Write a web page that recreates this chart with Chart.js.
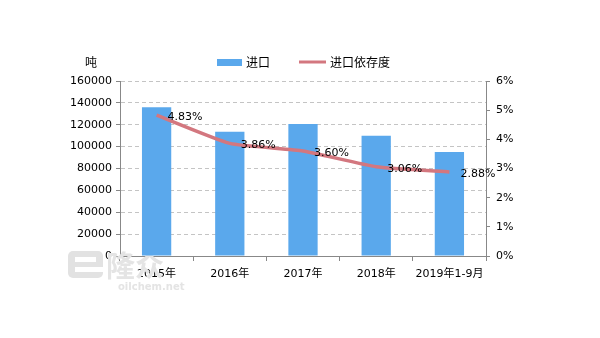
<!DOCTYPE html>
<html>
<head>
<meta charset="utf-8">
<script src="https://cdn.jsdelivr.net/npm/chart.js@4/dist/chart.umd.min.js"></script>
<style>
  body { margin: 0; background: #fff; }
  #wrap { width: 600px; height: 338px; }
</style>
</head>
<body>
<div id="wrap"><canvas id="myChart" width="600" height="338"></canvas></div>
<script>
const categories = ['2015年', '2016年', '2017年', '2018年', '2019年1-9月'];
const importTons = [136000, 113600, 120700, 110000, 95000]; // 进口, 吨
const importDependency = [4.83, 3.86, 3.60, 3.06, 2.88]; // 进口依存度, %
const leftTicks = [0, 20000, 40000, 60000, 80000, 100000, 120000, 140000, 160000];

const FONT = '"DejaVu Sans", "Noto Sans CJK SC", sans-serif';
const BAR_COLOR = '#5aa8ec';
const LINE_COLOR = '#d3777f';

// legend, unit label, watermark and point labels
const extras = {
  id: 'extras',
  beforeDatasetsDraw(chart) {
    const ctx = chart.ctx;
    ctx.save();
    // watermark logo
    ctx.fillStyle = '#e2e2e2';
    ctx.beginPath();
    ctx.roundRect(68, 251, 35, 27, 5);
    ctx.fill();
    ctx.fillStyle = '#fff';
    ctx.fillRect(75, 257, 21, 5);
    ctx.fillRect(75, 267, 28, 5);
    ctx.fillStyle = '#e4e4e4';
    ctx.font = 'bold 29px "Noto Sans CJK SC", sans-serif';
    ctx.textBaseline = 'alphabetic';
    ctx.fillText('隆众', 106, 277);
    ctx.font = 'bold 10px ' + FONT;
    ctx.fillText('oilchem.net', 118, 290);
    ctx.restore();
  },
  afterDatasetsDraw(chart) {
    const ctx = chart.ctx;
    ctx.save();
    ctx.font = '11px ' + FONT;
    ctx.fillStyle = '#000';
    ctx.textBaseline = 'middle';
    ctx.textAlign = 'left';
    const meta = chart.getDatasetMeta(0);
    meta.data.forEach((pt, i) => {
      ctx.fillText(importDependency[i].toFixed(2) + '%', pt.x + 11, pt.y + 2);
    });

    // unit above the left axis
    ctx.font = '12px "Noto Sans CJK SC", sans-serif';
    ctx.textAlign = 'center';
    ctx.fillText('吨', 91, 62);

    // legend
    ctx.textAlign = 'left';
    ctx.fillStyle = BAR_COLOR;
    ctx.fillRect(217, 59, 25, 7);
    ctx.fillStyle = '#000';
    ctx.fillText(chart.data.datasets[1].label, 246, 62);
    ctx.strokeStyle = LINE_COLOR;
    ctx.lineWidth = 3;
    ctx.beginPath();
    ctx.moveTo(299, 62);
    ctx.lineTo(326, 62);
    ctx.stroke();
    ctx.fillText(chart.data.datasets[0].label, 330, 62);
    ctx.restore();
  }
};

const ctx = document.getElementById('myChart').getContext('2d');
const myChart = new Chart(ctx, {
  data: {
    labels: categories,
    datasets: [
      {
        type: 'line',
        label: '进口依存度',
        data: importDependency,
        yAxisID: 'y1',
        borderColor: LINE_COLOR,
        borderWidth: 3.5,
        pointRadius: 0,
        tension: 0.15,
        fill: false,
        order: 0
      },
      {
        type: 'bar',
        label: '进口',
        data: importTons,
        yAxisID: 'y',
        backgroundColor: BAR_COLOR,
        barPercentage: 0.4,
        categoryPercentage: 1,
        order: 1
      }
    ]
  },
  options: {
    responsive: false,
    animation: false,
    layout: { padding: { top: 81, left: 0, right: 0, bottom: 0 } },
    plugins: {
      legend: { display: false },
      tooltip: { enabled: false }
    },
    scales: {
      x: {
        offset: true,
        grid: { drawOnChartArea: false, drawTicks: true, tickLength: 5, color: '#888', offset: true },
        border: { color: '#888' },
        ticks: { color: '#000', font: { size: 11, family: FONT }, maxRotation: 0, padding: 7 },
        afterFit: (scale) => { scale.height = 82; }
      },
      y: {
        position: 'left',
        min: 0,
        max: 160000,
        afterBuildTicks: (scale) => { scale.ticks = leftTicks.map(v => ({ value: v })); },
        grid: { color: '#c4c4c4', tickColor: '#888', tickLength: 4, tickBorderDash: [] },
        border: { color: '#888', dash: [4, 3] },
        ticks: { color: '#000', font: { size: 11, family: FONT }, padding: 4, callback: v => String(v) },
        afterFit: (scale) => { scale.width = 120; }
      },
      y1: {
        position: 'right',
        min: 0,
        max: 6,
        grid: { drawOnChartArea: false, tickColor: '#888', tickLength: 4 },
        border: { color: '#888' },
        ticks: { stepSize: 1, color: '#000', font: { size: 11, family: FONT }, padding: 6, callback: v => v + '%' },
        afterFit: (scale) => { scale.width = 114; }
      }
    }
  },
  plugins: [extras]
});
</script>
</body>
</html>
